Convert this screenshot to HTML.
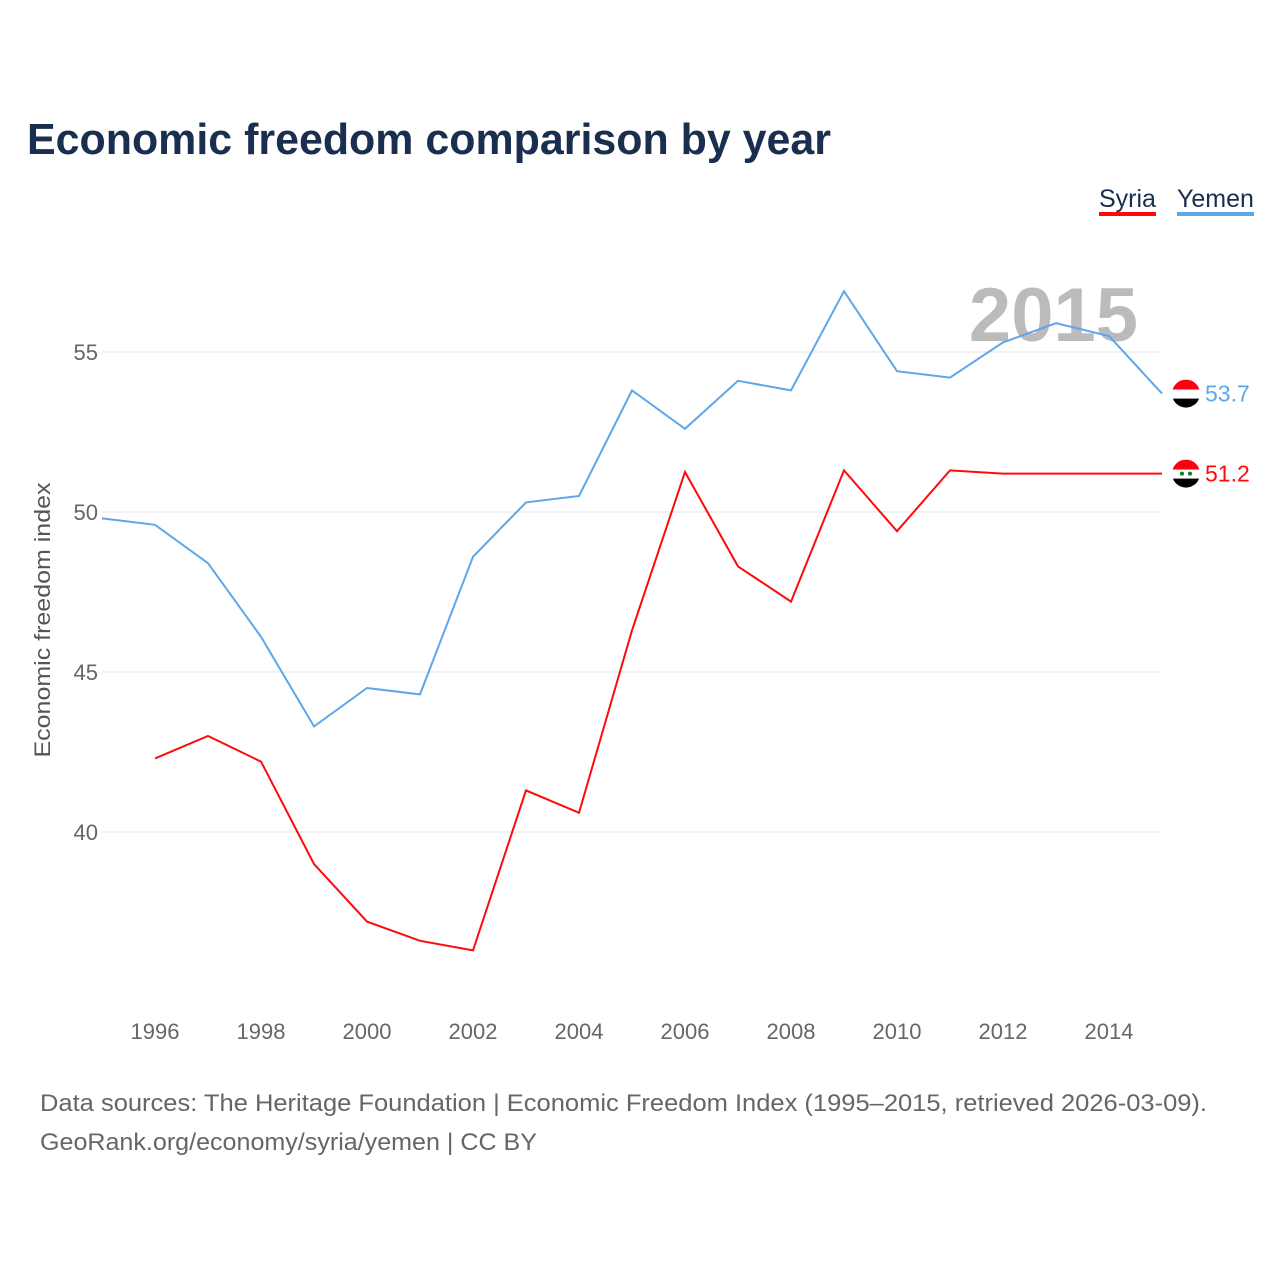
<!DOCTYPE html>
<html><head><meta charset="utf-8"><style>
body{margin:0;background:#fff;font-family:"Liberation Sans",sans-serif}
svg text{font-family:"Liberation Sans",sans-serif}
</style></head><body>
<svg width="1280" height="1280" xmlns="http://www.w3.org/2000/svg">
<text x="27" y="154" font-size="44" font-weight="bold" fill="#1a2e4f" textLength="804" lengthAdjust="spacingAndGlyphs">Economic freedom comparison by year</text>
<g>
<text x="1099" y="207" font-size="25" fill="#1a2e4f">Syria</text>
<rect x="1099" y="212" width="57" height="4" fill="#ff0a0a"/>
<text x="1177" y="207" font-size="25" fill="#1a2e4f">Yemen</text>
<rect x="1177" y="212" width="77" height="4" fill="#5ea6ea"/>
</g>
<text x="1138" y="341" font-size="76" font-weight="bold" fill="#bbb" text-anchor="end">2015</text>
<g id="grid"></g><g id="xt"></g>
<text transform="translate(50,620) rotate(-90)" font-size="22" fill="#555" text-anchor="middle" textLength="275" lengthAdjust="spacingAndGlyphs">Economic freedom index</text>
<g id="series"></g>
<text x="40" y="1111" font-size="24" fill="#666" textLength="1167" lengthAdjust="spacingAndGlyphs">Data sources: The Heritage Foundation | Economic Freedom Index (1995–2015, retrieved 2026-03-09).</text>
<text x="40" y="1150" font-size="24" fill="#666" textLength="497" lengthAdjust="spacingAndGlyphs">GeoRank.org/economy/syria/yemen | CC BY</text>
</svg>
<script>
const years=[1995,1996,1997,1998,1999,2000,2001,2002,2003,2004,2005,2006,2007,2008,2009,2010,2011,2012,2013,2014,2015];
const yemen=[49.8,49.6,48.4,46.1,43.3,44.5,44.3,48.6,50.3,50.5,53.8,52.6,54.1,53.8,56.9,54.4,54.2,55.3,55.9,55.5,53.7];
const syria=[null,42.3,43.0,42.2,39.0,37.2,36.6,36.3,41.3,40.6,46.3,51.25,48.3,47.2,51.3,49.4,51.3,51.2,51.2,51.2,51.2];
const yTicks=[40,45,50,55];
const xTicks=[1996,1998,2000,2002,2004,2006,2008,2010,2012,2014];
const NS="http://www.w3.org/2000/svg";
const X=y=>102+(y-1995)*53, Y=v=>512-(v-50)*32;
function mk(t,a,p){const e=document.createElementNS(NS,t);for(const k in a)e.setAttribute(k,a[k]);p.appendChild(e);return e;}
const g=document.getElementById('grid');
yTicks.forEach(v=>{
const l=mk('line',{x1:102,x2:1162,y1:Y(v),y2:Y(v),stroke:'#e3e3e3','stroke-width':1},g);


const t=mk('text',{x:98,y:Y(v)+8,'font-size':22,fill:'#666','text-anchor':'end'},g);t.textContent=v;


});
const xt=document.getElementById('xt');
xTicks.forEach(v=>{
const t=mk('text',{x:X(v),y:1039,'font-size':22,fill:'#666','text-anchor':'middle'},xt);t.textContent=v;


});
const s=document.getElementById('series');
function line(data,color,name){
let d='';data.forEach((v,i)=>{if(v==null)return;d+=(d?'L':'M')+X(years[i])+','+Y(v);});
const p=mk('path',{d:d,fill:'none',stroke:color,'stroke-width':2},s);


const last=data[data.length-1];
const cy=Y(last),cx=1186;
const f=mk('g',{},s);


mk('clipPath',{id:'c'+name},f).appendChild(document.createElementNS(NS,'circle'));
const c=f.querySelector('circle');c.setAttribute('cx',cx);c.setAttribute('cy',cy);c.setAttribute('r',14);
const gg=mk('g',{'clip-path':'url(#c'+name+')'},f);
mk('rect',{x:cx-14,y:cy-14,width:28,height:10,fill:'#f01'},gg);
mk('rect',{x:cx-14,y:cy-4,width:28,height:9,fill:'#fff'},gg);
mk('rect',{x:cx-14,y:cy+5,width:28,height:10,fill:'#000'},gg);
if(name==='syria'){mk('circle',{cx:cx-4,cy:cy,r:2,fill:'#080'},gg);mk('circle',{cx:cx+4,cy:cy,r:2,fill:'#080'},gg);}
const t=mk('text',{x:1205,y:cy+8,'font-size':23,fill:color},s);t.textContent=last.toFixed(1);


}
line(yemen,'#5ea6ea','yemen');
line(syria,'#ff0a0a','syria');
</script>
</body></html>
